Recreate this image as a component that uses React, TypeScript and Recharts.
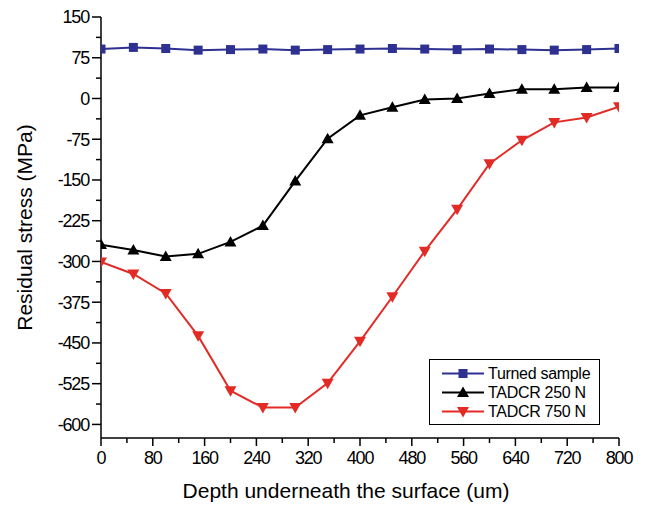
import { LineChart, Line, XAxis, YAxis, Legend } from 'recharts';

const depth = [0, 50, 100, 150, 200, 250, 300, 350, 400, 450, 500, 550, 600, 650, 700, 750, 800];
const turnedSample = [91, 94, 92, 89, 90, 91, 89, 90, 91, 92, 91, 90, 91, 90, 89, 90, 92];
const tadcr250 = [-269, -279, -291, -286, -264, -234, -152, -74, -31, -16, -2, 0, 9, 17, 17, 20, 20];
const tadcr750 = [-301, -323, -359, -437, -538, -569, -569, -524, -447, -365, -281, -204, -120, -77, -44, -35, -15];

const xTicks = [0, 40, 80, 120, 160, 200, 240, 280, 320, 360, 400, 440, 480, 520, 560, 600, 640, 680, 720, 760, 800];
const xMajor = [0, 80, 160, 240, 320, 400, 480, 560, 640, 720, 800];
const yTicks = [-600, -562.5, -525, -487.5, -450, -412.5, -375, -337.5, -300, -262.5, -225, -187.5, -150, -112.5, -75, -37.5, 0, 37.5, 75, 112.5, 150];
const yMajor = [-600, -525, -450, -375, -300, -225, -150, -75, 0, 75, 150];

const BLUE = '#2e3192';
const RED = '#e32b26';
const FONT = 'Liberation Sans, Arial, sans-serif';

const data = depth.map((d, i) => ({
  depth: d,
  turned: turnedSample[i],
  t250: tadcr250[i],
  t750: tadcr750[i],
}));

const series = [
  { key: 'turned', name: 'Turned sample', color: BLUE, marker: 'square' },
  { key: 't250', name: 'TADCR 250 N', color: '#000000', marker: 'up' },
  { key: 't750', name: 'TADCR 750 N', color: RED, marker: 'down' },
];

function Marker({ cx, cy, type, color }: any) {
  if (cx == null || cy == null) return null;
  if (type === 'square') {
    return <rect x={cx - 4.5} y={cy - 4.5} width={9} height={9} fill={color} />;
  }
  if (type === 'up') {
    return <polygon points={`${cx},${cy - 6} ${cx - 6},${cy + 4.5} ${cx + 6},${cy + 4.5}`} fill={color} />;
  }
  return <polygon points={`${cx},${cy + 6} ${cx - 6},${cy - 4.5} ${cx + 6},${cy - 4.5}`} fill={color} />;
}

const BottomTick = ({ x, y, payload }: any) => {
  const major = xMajor.includes(payload.value);
  return (
    <g>
      <line x1={x} y1={y} x2={x} y2={y + (major ? 8 : 5)} stroke="#000" strokeWidth={1.5} />
      {major && (
        <text x={x} y={y + 26} textAnchor="middle" fontSize={18} letterSpacing={-1.2} fontFamily={FONT} fill="#000">
          {payload.value}
        </text>
      )}
    </g>
  );
};

const TopTick = ({ x, y, payload }: any) => {
  const major = xMajor.includes(payload.value);
  return <line x1={x} y1={y} x2={x} y2={y + (major ? 8 : 5)} stroke="#000" strokeWidth={1.5} />;
};

const LeftTick = ({ x, y, payload }: any) => {
  const major = yMajor.includes(payload.value);
  return (
    <g>
      <line x1={x} y1={y} x2={x - (major ? 9 : 5)} y2={y} stroke="#000" strokeWidth={1.5} />
      {major && (
        <text x={x - 12} y={y} dy="0.36em" textAnchor="end" fontSize={18} letterSpacing={-1.2} fontFamily={FONT} fill="#000">
          {payload.value}
        </text>
      )}
    </g>
  );
};

const RightTick = ({ x, y, payload }: any) => {
  const major = yMajor.includes(payload.value);
  return <line x1={x} y1={y} x2={x - (major ? 9 : 5)} y2={y} stroke="#000" strokeWidth={1.5} />;
};

const LegendBox = () => (
  <div
    style={{
      position: 'relative',
      width: 169,
      height: 64,
      border: '1px solid #000',
      background: '#fff',
      fontFamily: FONT,
      fontSize: 16,
      boxSizing: 'content-box',
    }}
  >
    {series.map((s, i) => (
      <div key={s.key} style={{ position: 'absolute', left: 0, top: 4 + i * 19, display: 'flex', alignItems: 'center', height: 19 }}>
        <svg width={58} height={19}>
          <line x1={12} y1={9.5} x2={54} y2={9.5} stroke={s.color} strokeWidth={2} />
          <Marker cx={33} cy={9.5} type={s.marker} color={s.color} />
        </svg>
        <span style={{ letterSpacing: -0.3, whiteSpace: 'nowrap' }}>{s.name}</span>
      </div>
    ))}
  </div>
);

export default function App() {
  return (
    <div style={{ position: 'absolute', left: 0, top: 0, width: 648, height: 508, background: '#fff' }}>
      <LineChart width={648} height={508} data={data} margin={{ top: 17, right: 29, bottom: 40, left: 41 }}>
        <XAxis
          dataKey="depth"
          type="number"
          domain={[0, 800]}
          ticks={xTicks}
          interval={0}
          allowDataOverflow
          height={30}
          tickSize={0}
          tickMargin={0}
          tickLine={false}
          tick={<BottomTick />}
          axisLine={{ stroke: '#000', strokeWidth: 1.5 }}
          label={{
            content: ({ viewBox }: any) => (
              <text
                x={viewBox.x + viewBox.width / 2 - 14}
                y={viewBox.y + 60}
                textAnchor="middle"
                fontSize={21}
                fontFamily={FONT}
                fill="#000"
              >
                Depth underneath the surface (um)
              </text>
            ),
          }}
        />
        <XAxis
          xAxisId="top"
          orientation="top"
          dataKey="depth"
          type="number"
          domain={[0, 800]}
          ticks={xTicks}
          interval={0}
          height={0}
          tickSize={0}
          tickMargin={0}
          tickLine={false}
          tick={<TopTick />}
          axisLine={{ stroke: '#000', strokeWidth: 1.5 }}
        />
        <YAxis
          type="number"
          domain={[-625, 150]}
          ticks={yTicks}
          interval={0}
          allowDataOverflow
          width={60}
          tickSize={0}
          tickMargin={0}
          tickLine={false}
          tick={<LeftTick />}
          axisLine={{ stroke: '#000', strokeWidth: 1.5 }}
          label={{
            content: ({ viewBox }: any) => {
              const cx = viewBox.x - 17;
              const cy = viewBox.y + viewBox.height / 2;
              return (
                <text
                  x={cx}
                  y={cy}
                  transform={`rotate(-90 ${cx} ${cy})`}
                  textAnchor="middle"
                  dy="0.36em"
                  fontSize={21}
                  fontFamily={FONT}
                  fill="#000"
                >
                  Residual stress (MPa)
                </text>
              );
            },
          }}
        />
        <YAxis
          yAxisId="right"
          orientation="right"
          type="number"
          domain={[-625, 150]}
          ticks={yTicks}
          interval={0}
          width={0}
          tickSize={0}
          tickMargin={0}
          tickLine={false}
          tick={<RightTick />}
          axisLine={{ stroke: '#000', strokeWidth: 1.5 }}
        />
        {series.map((s) => (
          <Line
            key={s.key}
            dataKey={s.key}
            name={s.name}
            type="linear"
            stroke={s.color}
            strokeWidth={2}
            isAnimationActive={false}
            dot={(p: any) => <Marker key={`${s.key}-${p.index}`} cx={p.cx} cy={p.cy} type={s.marker} color={s.color} />}
            activeDot={false}
          />
        ))}
        <Legend
          layout="vertical"
          align="center"
          verticalAlign="middle"
          content={<LegendBox />}
          wrapperStyle={{ position: 'absolute', left: 429, top: 359, width: 171, height: 66 }}
        />
      </LineChart>
    </div>
  );
}
